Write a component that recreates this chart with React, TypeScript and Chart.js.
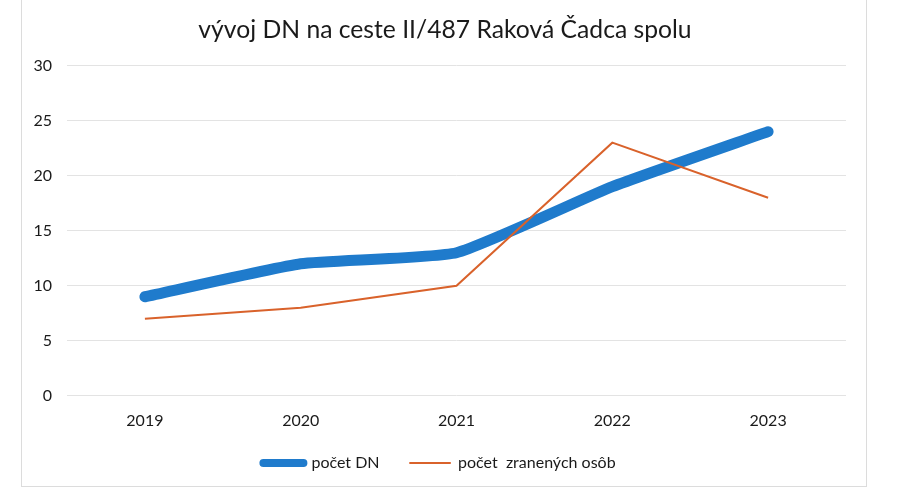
import React, { useEffect, useRef } from "react";
import { Chart, registerables } from "chart.js";

Chart.register(...registerables);

const years = ["2019", "2020", "2021", "2022", "2023"];
const pocetDN = [9, 12, 13, 19, 24];
const pocetZranenych = [7, 8, 10, 23, 18];
const seriesNames = ["počet DN", "počet  zranených osôb"];
const titleText = "vývoj DN na ceste II/487 Raková Čadca spolu";

const FONT = "Lato, 'Open Sans', sans-serif";

// posunie nadpis a legendu doprava, aby boli v strede rámika a nie plochy grafu
const blockShift = {
  id: "blockShift",
  afterLayout(chart: any) {
    if (chart.titleBlock) chart.titleBlock.left += 23;
    if (chart.legend) chart.legend.left += 12;
  },
};

const App = () => {
  const chartRef = useRef<HTMLCanvasElement | null>(null);
  const chartInstance = useRef<Chart | null>(null);

  useEffect(() => {
    const defaultLabels = Chart.defaults.plugins.legend.labels.generateLabels;

    const config: any = {
      type: "line",
      data: {
        labels: years,
        datasets: [
          {
            label: seriesNames[0],
            data: pocetDN,
            borderColor: "#1f7bcc",
            backgroundColor: "#1f7bcc",
            borderWidth: 11,
            borderCapStyle: "round",
            borderJoinStyle: "round",
            pointRadius: 0,
            tension: 0.15,
            order: 2,
          },
          {
            label: seriesNames[1],
            data: pocetZranenych,
            borderColor: "#d9622b",
            backgroundColor: "#d9622b",
            borderWidth: 2,
            pointRadius: 0,
            tension: 0,
            order: 1,
          },
        ],
      },
      plugins: [blockShift],
      options: {
        responsive: true,
        maintainAspectRatio: false,
        animation: false,
        layout: { padding: { left: 21, right: 54, top: 0, bottom: 14 } },
        plugins: {
          title: {
            display: true,
            text: titleText,
            color: "#1a1a1a",
            font: { family: FONT, size: 24.7, weight: "normal" },
            padding: { top: 15, bottom: 21 },
          },
          legend: {
            position: "bottom",
            labels: {
              usePointStyle: true,
              pointStyle: "line",
              pointStyleWidth: 40,
              padding: 10,
              color: "#1a1a1a",
              font: { family: FONT, size: 16 },
              sort: (a: any, b: any) => a.datasetIndex - b.datasetIndex,
              generateLabels: (chart: any) => {
                const items = defaultLabels(chart);
                items.forEach((it: any) => {
                  it.pointStyle = "line";
                  it.lineCap = "round";
                  if (it.datasetIndex === 0) {
                    it.lineWidth = 8;
                    it.text = it.text + "     ";
                  }
                });
                return items;
              },
            },
          },
          tooltip: { enabled: false },
        },
        scales: {
          x: {
            offset: true,
            grid: { display: false, drawTicks: false },
            border: { display: false },
            ticks: {
              color: "#1a1a1a",
              padding: 15,
              font: { family: FONT, size: 16 },
            },
          },
          y: {
            min: 0,
            max: 30,
            afterFit: (scale: any) => {
              scale.width = 46;
            },
            grid: { color: "#e3e3e3", drawTicks: false },
            border: { display: false },
            ticks: {
              stepSize: 5,
              color: "#1a1a1a",
              padding: 15,
              font: { family: FONT, size: 16 },
            },
          },
        },
      },
    };

    if (chartInstance.current) {
      chartInstance.current.destroy();
    }
    if (chartRef.current) {
      chartInstance.current = new Chart(chartRef.current, config);
    }
    return () => {
      if (chartInstance.current) {
        chartInstance.current.destroy();
        chartInstance.current = null;
      }
    };
  }, []);

  return (
    <div
      style={{
        position: "fixed",
        left: 0,
        top: 0,
        width: 900,
        height: 495,
        background: "#fff",
      }}
    >
      <div
        style={{
          position: "absolute",
          left: 21,
          top: -1,
          width: 846,
          height: 488,
          border: "1px solid #dcdcdc",
          boxSizing: "border-box",
        }}
      />
      <canvas ref={chartRef} style={{ position: "absolute", left: 0, top: 0 }}></canvas>
    </div>
  );
};

export default App;
